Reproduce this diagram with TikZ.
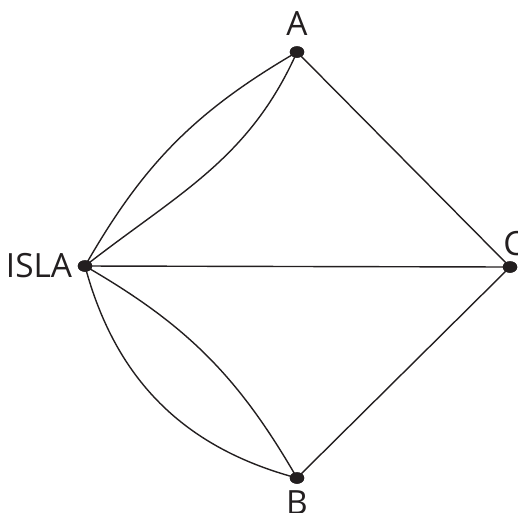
\documentclass[tikz,border=0pt]{standalone}
\usepackage{fontspec}
\setmainfont{Open Sans}
\usepackage{tikz}
\usetikzlibrary{positioning}
\usetikzlibrary{shapes.geometric}
\definecolor{ink}{HTML}{231F20}
\tikzset{
  dot/.style={ellipse,fill=ink,inner sep=0pt,minimum width=0.29cm,minimum height=0.23cm},
  lab/.style={inner sep=0pt,text=ink,font=\fontsize{19}{22}\selectfont},
  edge/.style={draw=ink,line width=0.8pt}
}

\begin{document}
\begin{tikzpicture}[x=0.02cm,y=-0.02cm]
  \useasboundingbox (0,0) rectangle (518,512);
  % the four points
  \node[dot] (a) at (297,52) {};
  \node[dot] (isla) at (85,266) {};
  \node[dot] (c) at (510,267) {};
  \node[dot] (b) at (297,478) {};
  \node[lab,above=0.21cm of a] (la) {A};
  \node[lab,left=0.1cm of isla] (lisla) {ISLA};
  \node[lab,above=0.1cm of c,xshift=0.08cm] (lc) {C};
  \node[lab,below=0.13cm of b] (lb) {B};
  % straight connections
  \draw[edge] (a.center) -- (c.center);
  \draw[edge] (isla.center) -- (c.center);
  \draw[edge] (c.center) -- (b.center);
  % double curves from ISLA
  \draw[edge] (isla.center) to[bend left=15] (a.center);
  \draw[edge] (isla.center) to[out=38,in=246] (a.center);
  \draw[edge] (isla.center) to[bend right=30] (b.center);
  \draw[edge] (isla.center) to[bend left=15] (b.center);
  % dots on top
  \foreach \p in {a,isla,c,b} \node[dot] at (\p) {};
\end{tikzpicture}
\end{document}
